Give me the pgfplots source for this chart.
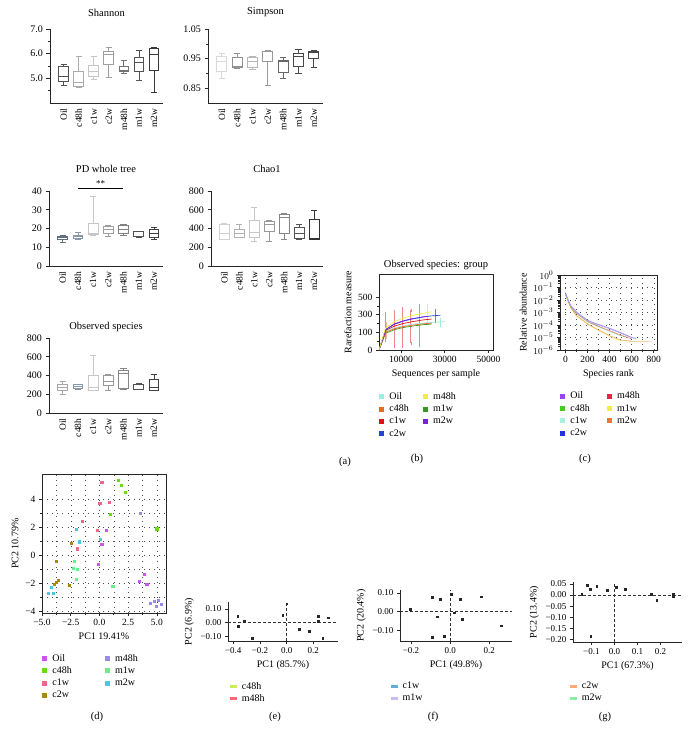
\documentclass[border=0pt]{standalone}
\usepackage{pgfplots}
\pgfplotsset{compat=1.18}
\usepgfplotslibrary{statistics}
\usepackage{fontspec}
\setmainfont{Liberation Serif}
\newcommand{\fz}[1]{\fontsize{#1}{#1}\selectfont}
\definecolor{bgA}{HTML}{607080}
\definecolor{bgB}{HTML}{8898A8}
\definecolor{rOil}{HTML}{99EEDD}
\definecolor{rc48h}{HTML}{EE6622}
\definecolor{rc1w}{HTML}{DD1111}
\definecolor{rc2w}{HTML}{2244DD}
\definecolor{rm48h}{HTML}{EEEE44}
\definecolor{rm1w}{HTML}{339922}
\definecolor{rm2w}{HTML}{7722DD}
\definecolor{kOil}{HTML}{9944EE}
\definecolor{kc48h}{HTML}{44CC22}
\definecolor{kc1w}{HTML}{AAF0E0}
\definecolor{kc2w}{HTML}{2233DD}
\definecolor{km48h}{HTML}{EE2244}
\definecolor{km1w}{HTML}{EEEE44}
\definecolor{km2w}{HTML}{EE7733}
\definecolor{pOil}{HTML}{CC55EE}
\definecolor{pc48h}{HTML}{66DD11}
\definecolor{pc1w}{HTML}{EE6688}
\definecolor{pc2w}{HTML}{AA8811}
\definecolor{pm48h}{HTML}{9988EE}
\definecolor{pm1w}{HTML}{66EE88}
\definecolor{pm2w}{HTML}{44CCDD}
\definecolor{eA}{HTML}{CCEE55}
\definecolor{eB}{HTML}{FF6677}
\definecolor{fA}{HTML}{66AADD}
\definecolor{fB}{HTML}{CCBBEE}
\definecolor{gA}{HTML}{FFAA77}
\definecolor{gB}{HTML}{88EEAA}

\newcommand{\bx}[7]{\addplot[draw=#7, line width=0.75pt, boxplot prepared={draw direction=y, draw position=#1, lower whisker=#2, lower quartile=#3, median=#4, upper quartile=#5, upper whisker=#6, box extend=0.65, whisker extend=0.4}] coordinates {};}
\newcommand{\eb}[2]{\addplot[forget plot, draw=none, mark=none, error bars/.cd, y dir=both, y explicit,
  error bar style={draw=#1, line width=0.6pt}, error mark=-, error mark options={draw=#1, mark size=1.5pt}] coordinates {#2};}

\pgfplotsset{
  boxax/.style={scale only axis, anchor=south west, axis lines*=left,
    axis line style={-, line width=0.7pt, black!85},
    xmin=-0.9, xmax=6.6, xtick={0,1,2,3,4,5,6},
    xticklabels={Oil,c48h,c1w,c2w,m48h,m1w,m2w},
    x tick label style={rotate=90, anchor=east, font=\fz{9.5}, inner sep=2pt},
    major x tick style={draw=none}, tick align=outside,
    y tick label style={font=\fz{10}},
    major tick length=3.5pt, minor tick length=2.2pt,
    tick style={black!85, line width=0.6pt},
    /pgf/number format/assume math mode=true,
    title style={font=\fz{10.5}}, clip=false},
  ptax/.style={scale only axis, anchor=south west, tick align=outside, tick pos=left,
    tick label style={font=\fz{9.5}}, label style={font=\fz{10}},
    /pgf/number format/assume math mode=true,
    axis line style={line width=0.7pt, black!85},
    tick style={black!85, line width=0.6pt}, major tick length=3pt, minor tick length=2pt},
  sqleg/.style={legend columns=2, legend cell align=left},
}

\begin{document}
\begin{tikzpicture}
\useasboundingbox (0,0) rectangle (689pt,-744pt);

% ---------- Shannon
\begin{axis}[boxax, at={(50pt,-103pt)}, width=113pt, height=74pt, ymin=4, ymax=7,
  ytick={5,6,7}, yticklabels={5.0,6.0,7.0}, minor ytick={4.5,5.5,6.5},
  title={Shannon}, title style={yshift=3pt}]
\bx{0}{4.73}{4.86}{5.09}{5.47}{5.58}{black!68}
\bx{1}{4.64}{4.69}{4.82}{5.3}{5.9}{black!33}
\bx{2}{4.97}{5.07}{5.27}{5.54}{5.9}{black!22}
\bx{3}{5.03}{5.58}{5.97}{6.08}{6.24}{black!38}
\bx{4}{5.2}{5.3}{5.34}{5.5}{5.72}{black!55}
\bx{5}{4.93}{5.27}{5.64}{5.85}{6.12}{black!68}
\bx{6}{4.42}{5.34}{5.97}{6.2}{6.24}{black!78}
\end{axis}

% ---------- Simpson
\begin{axis}[boxax, at={(208pt,-103pt)}, width=115pt, height=74pt, ymin=0.8, ymax=1.05,
  ytick={0.85,0.95,1.05}, yticklabels={0.85,0.95,1.05}, minor ytick={0.9,1.0},
  title={Simpson}, title style={yshift=3pt}]
\bx{0}{0.884}{0.906}{0.94}{0.959}{0.966}{black!15}
\bx{1}{0.917}{0.92}{0.925}{0.954}{0.966}{black!43}
\bx{2}{0.912}{0.92}{0.942}{0.954}{0.959}{black!28}
\bx{3}{0.861}{0.942}{0.974}{0.976}{0.979}{black!40}
\bx{4}{0.884}{0.903}{0.942}{0.945}{0.954}{black!60}
\bx{5}{0.9}{0.925}{0.959}{0.968}{0.981}{black!72}
\bx{6}{0.921}{0.951}{0.97}{0.974}{0.977}{black!72}
\end{axis}

% ---------- PD whole tree
\begin{axis}[boxax, at={(49pt,-266pt)}, width=114pt, height=75pt, ymin=0, ymax=40,
  ytick={0,10,20,30,40}, title={PD whole tree}, title style={yshift=9pt}]
\bx{0}{12.4}{14.2}{15.1}{15.6}{16.5}{bgA}
\bx{1}{14.2}{14.8}{15.6}{16.5}{18}{bgB}
\bx{2}{16.5}{16.9}{17.4}{22.8}{37}{black!22}
\bx{3}{16}{17.4}{19.6}{21}{21.9}{black!38}
\bx{4}{16.5}{17.4}{19.7}{21.5}{22.4}{black!50}
\bx{5}{15.3}{15.6}{16}{18.3}{18.3}{black!68}
\bx{6}{14.2}{15.1}{17.4}{19.6}{20.4}{black!75}
\addplot[black, line width=0.7pt] coordinates {(1,41.4) (4,41.4)};
\node[font=\fz{9}, anchor=south, inner sep=1pt] at (axis cs:2.5,41.6) {**};
\end{axis}

% ---------- Chao1
\begin{axis}[boxax, at={(211pt,-266pt)}, width=112pt, height=75pt, ymin=0, ymax=800,
  ytick={0,200,400,600,800}, title={Chao1}, title style={yshift=9pt}]
\bx{0}{284}{284}{348}{448}{455}{black!18}
\bx{1}{306}{306}{348}{391}{448}{black!30}
\bx{2}{267}{306}{359}{491}{622}{black!22}
\bx{3}{260}{366}{448}{473}{484}{black!40}
\bx{4}{284}{348}{519}{551}{562}{black!47}
\bx{5}{284}{295}{348}{412}{448}{black!68}
\bx{6}{288}{288}{295}{498}{590}{black!80}
\end{axis}

% ---------- Observed species
\begin{axis}[boxax, at={(49pt,-413pt)}, width=114pt, height=75pt, ymin=0, ymax=800,
  ytick={0,200,400,600,800}, title={Observed species}, title style={yshift=-3pt}]
\bx{0}{203}{238}{277}{302}{338}{black!35}
\bx{1}{249}{267}{284}{302}{309}{bgB}
\bx{2}{238}{242}{277}{398}{612}{black!22}
\bx{3}{238}{292}{338}{398}{409}{black!40}
\bx{4}{256}{267}{427}{455}{480}{black!47}
\bx{5}{249}{249}{256}{302}{320}{black!68}
\bx{6}{242}{242}{274}{356}{416}{black!75}
\end{axis}

% ---------- (b) rarefaction
\begin{axis}[ptax, at={(379pt,-350pt)}, width=114pt, height=76pt,
  xmin=0, xmax=52000, ymin=0, ymax=430, scaled x ticks=false,
  xtick={10000,30000,50000}, xticklabels={10000,30000,50000},
  ytick={0,100,200,300}, yticklabels={0,100,300,500}, minor y tick num=1,
  title={Observed species: group}, title style={font=\fz{10.5}, yshift=-5pt},
  xlabel={Sequences per sample}, ylabel={Rarefaction measure},
  sqleg, legend style={draw=none, fill=none, at={(0,-0.53)}, anchor=north west,
    font=\fz{10}, inner sep=0pt, row sep=0pt, /tikz/every even column/.append style={column sep=12pt}},
  legend image code/.code={\fill[#1, draw=none] (0pt,-2.5pt) rectangle (5pt,2.5pt); \path (8pt,0pt);}]
\addlegendimage{fill=rOil}\addlegendentry{Oil}
\addlegendimage{fill=rm48h}\addlegendentry{m48h}
\addlegendimage{fill=rc48h}\addlegendentry{c48h}
\addlegendimage{fill=rm1w}\addlegendentry{m1w}
\addlegendimage{fill=rc1w}\addlegendentry{c1w}
\addlegendimage{fill=rm2w}\addlegendentry{m2w}
\addlegendimage{fill=rc2w}\addlegendentry{c2w}
\eb{rc1w!50}{(2900,131) +- (0,76) (6800,118) +- (0,99) (10700,127) +- (0,108) (14500,132) +- (0,94) (18400,141) +- (0,113)}
\eb{rc48h!45}{(3300,110) +- (0,40)}
\eb{rm48h!80}{(22000,202) +- (0,52)}
\eb{rc2w!70}{(25600,193) +- (0,33)}
\eb{rOil}{(27800,157) +- (0,16)}
\addplot[forget plot, rOil, line width=0.7pt] coordinates {(0,0)(3000,105)(7000,125)(11000,137)(15000,145)(20000,152)(25000,157)(30000,160)};
\addplot[forget plot, rm1w, line width=0.7pt] coordinates {(0,0)(3000,95)(7000,115)(11000,127)(15000,135)(20000,143)(24000,147)};
\addplot[forget plot, rc48h, line width=0.7pt] coordinates {(0,0)(3000,100)(7000,120)(11000,132)(15000,140)(20000,148)(24000,152)};
\addplot[forget plot, rc1w, line width=0.7pt] coordinates {(0,0)(3000,110)(7000,135)(11000,150)(15000,160)(20000,170)(24000,175)};
\addplot[forget plot, rc2w, line width=0.7pt] coordinates {(0,0)(3000,115)(7000,145)(11000,163)(15000,175)(20000,187)(24000,193)(28000,197)};
\addplot[forget plot, rm2w, line width=0.7pt] coordinates {(0,0)(3000,115)(7000,148)(11000,165)(15000,177)(20000,187)(22000,190)};
\addplot[forget plot, rm48h, line width=0.7pt] coordinates {(0,0)(3000,125)(7000,160)(11000,180)(15000,195)(20000,208)(24000,216)};
\end{axis}

% ---------- (c) rank abundance
\begin{axis}[ptax, at={(560pt,-350pt)}, width=97pt, height=75pt, ymode=log,
  xmin=-50, xmax=830, ymin=1e-6, ymax=1,
  xtick={0,200,400,600,800},
  ytick={1e-6,1e-5,1e-4,1e-3,1e-2,1e-1,1},
  yticklabels={$10^{-6}$,$10^{-5}$,$10^{-4}$,$10^{-3}$,$10^{-2}$,$10^{-1}$,$10^{0}$},
  minor x tick num=1, minor ytick={},
  xmajorgrids, xminorgrids, ymajorgrids,
  major grid style={black!70, dash pattern=on 0.6pt off 4.5pt},
  minor grid style={black!70, dash pattern=on 0.6pt off 4.5pt},
  xlabel={Species rank}, ylabel={Relative abundance},
  sqleg, legend style={draw=none, fill=none, at={(0,-0.53)}, anchor=north west,
    font=\fz{10}, inner sep=0pt, row sep=0pt, /tikz/every even column/.append style={column sep=15pt}},
  legend image code/.code={\fill[#1, draw=none] (0pt,-2.5pt) rectangle (5pt,2.5pt); \path (8pt,0pt);}]
\addlegendimage{fill=kOil}\addlegendentry{Oil}
\addlegendimage{fill=km48h}\addlegendentry{m48h}
\addlegendimage{fill=kc48h}\addlegendentry{c48h}
\addlegendimage{fill=km1w}\addlegendentry{m1w}
\addlegendimage{fill=kc1w}\addlegendentry{c1w}
\addlegendimage{fill=km2w}\addlegendentry{m2w}
\addlegendimage{fill=kc2w}\addlegendentry{c2w}
\addplot[forget plot, km1w, line width=0.45pt] coordinates {(0,0.025)(50,0.002)(100,0.000501)(200,0.000112)(300,3.55e-5)(400,1.26e-5)(450,7.9e-6)(500,5.6e-6)(600,5.0e-6)(750,5.0e-6)};
\addplot[forget plot, km2w!80, line width=0.45pt] coordinates {(0,0.025)(50,0.00224)(100,0.000562)(200,0.000126)(300,3.98e-5)(400,1.41e-5)(500,6.3e-6)(600,5.0e-6)(780,5.0e-6)};
\addplot[forget plot, kc48h!70, line width=0.45pt] coordinates {(0,0.025)(50,0.00251)(100,0.000794)(200,0.000178)(300,7.08e-5)(400,3.16e-5)(500,1.41e-5)(560,1e-5)};
\addplot[forget plot, km48h!70, line width=0.45pt] coordinates {(0,0.0316)(50,0.00282)(100,0.000891)(200,0.0002)(300,7.94e-5)(400,3.55e-5)(500,1.58e-5)(600,7.9e-6)};
\addplot[forget plot, kc1w, line width=0.45pt] coordinates {(0,0.0316)(50,0.00316)(100,0.001)(200,0.000224)(300,0.0001)(400,5.01e-5)(500,2.24e-5)(600,1.12e-5)(650,8.9e-6)};
\addplot[forget plot, kc2w!60, line width=0.45pt] coordinates {(0,0.04)(25,0.01)(50,0.00355)(100,0.00112)(150,0.000501)(200,0.000251)(250,0.000158)(300,0.000112)(400,5.62e-5)(500,2.51e-5)(600,1e-5)(640,7.9e-6)};
\addplot[forget plot, kOil!60, line width=0.45pt] coordinates {(0,0.0316)(25,0.0079)(50,0.00316)(100,0.001)(150,0.000447)(200,0.000224)(250,0.000141)(300,0.0001)(400,5.01e-5)(500,2.24e-5)(580,1.12e-5)(620,8.9e-6)};
\end{axis}

% ---------- (d) PCA
\begin{axis}[ptax, at={(42pt,-613pt)}, width=124pt, height=139pt,
  xmin=-5, xmax=5.8, ymin=-4.15, ymax=5.8,
  xtick={-5,-2.5,0,2.5,5}, xticklabels={−5.0,−2.5,0.0,2.5,5.0},
  ytick={-4,-2,0,2,4}, yticklabels={−4,−2,0,2,4},
  minor x tick num=1, minor y tick num=1, grid=both,
  major grid style={black!70, dash pattern=on 0.6pt off 4.5pt},
  minor grid style={black!70, dash pattern=on 0.6pt off 4.5pt},
  xlabel={PC1 19.41\%}, ylabel={PC2 10.79\%},
  sqleg, legend style={draw=none, fill=none, at={(0,-0.28)}, anchor=north west,
    font=\fz{10}, inner sep=0pt, row sep=0pt, /tikz/every even column/.append style={column sep=31pt}},
  legend image code/.code={\fill[#1, draw=none] (0pt,-2.5pt) rectangle (5pt,2.5pt); \path (8pt,0pt);}]
\addlegendimage{fill=pOil}\addlegendentry{Oil}
\addlegendimage{fill=pm48h}\addlegendentry{m48h}
\addlegendimage{fill=pc48h}\addlegendentry{c48h}
\addlegendimage{fill=pm1w}\addlegendentry{m1w}
\addlegendimage{fill=pc1w}\addlegendentry{c1w}
\addlegendimage{fill=pm2w}\addlegendentry{m2w}
\addlegendimage{fill=pc2w}\addlegendentry{c2w}
\addplot[forget plot, only marks, mark=square*, mark size=1.1pt, pc48h] coordinates {(1.65,5.36)(1.89,5.0)(2.23,4.52)(0.93,2.9)(4.99,1.88)};
\addplot[forget plot, only marks, mark=square*, mark size=1.1pt, pc1w] coordinates {(0.2,5.21)(0.03,3.69)(0.82,3.79)(-1.53,2.43)(-0.2,1.79)(-1.94,0.45)};
\addplot[forget plot, only marks, mark=square*, mark size=1.1pt, pOil] coordinates {(0.58,1.79)(0.2,0.79)(-0.14,-0.67)(3.48,-1.9)(3.92,-1.36)(4.12,-2.07)};
\addplot[forget plot, only marks, mark=square*, mark size=1.1pt, pm48h] coordinates {(3.57,2.98)(4.43,-3.45)(4.78,-3.33)(5.13,-3.21)(4.93,-3.69)(5.37,-3.5)};
\addplot[forget plot, only marks, mark=square*, mark size=1.1pt, pc2w] coordinates {(-2.46,0.83)(-3.74,-0.43)(-3.56,-1.79)(-3.91,-2.1)(-3.75,-1.95)(-2.66,-2.14)};
\addplot[forget plot, only marks, mark=square*, mark size=1.1pt, pm2w] coordinates {(-2.03,1.83)(-1.74,0.95)(0.06,1.14)(-4.2,-2.31)(-4.49,-2.74)(-4.05,-2.74)};
\addplot[forget plot, only marks, mark=square*, mark size=1.1pt, pm1w] coordinates {(-2.23,-0.43)(-2.31,-0.95)(-1.94,-1.02)(-2.03,-1.74)(1.16,-2.21)};
\end{axis}

% ---------- (e)
\begin{axis}[ptax, axis lines*=left, axis line style={-}, at={(228pt,-641pt)}, width=110pt, height=39pt,
  xmin=-0.44, xmax=0.385, ymin=-0.135, ymax=0.15,
  xtick={-0.4,-0.2,0,0.2}, xticklabels={−0.4,−0.2,0.0,0.2},
  ytick={-0.1,0,0.1}, yticklabels={−0.10,0.00,0.10}, tick label style={font=\fz{9}},
  xlabel={PC1 (85.7\%)}, ylabel={PC2 (6.9\%)},
  legend style={draw=none, fill=none, at={(0,-1.0)}, anchor=north west, font=\fz{10}, inner sep=0pt, row sep=0pt},
  legend cell align=left,
  legend image code/.code={\draw[#1, line width=3pt] (0pt,0pt) -- (7pt,0pt); \path (10pt,0pt);}]
\addlegendimage{eA}\addlegendentry{c48h}
\addlegendimage{eB}\addlegendentry{m48h}
\addplot[forget plot, black!80, line width=0.6pt, dash pattern=on 3pt off 2pt] coordinates {(-0.44,0)(0.385,0)};
\addplot[forget plot, black!80, line width=0.6pt, dash pattern=on 3pt off 2pt] coordinates {(0,-0.135)(0,0.15)};
\addplot[forget plot, only marks, mark=square*, mark size=0.9pt, black!85] coordinates {(-0.368,0.046)(-0.364,-0.027)(-0.319,0.01)(-0.256,-0.112)(-0.03,0.053)(0.0,0.138)(0.092,-0.051)(0.168,-0.061)(0.238,0.046)(0.238,0.012)(0.27,-0.112)(0.313,0.036)};
\end{axis}

% ---------- (f)
\begin{axis}[ptax, axis lines*=left, axis line style={-}, at={(400pt,-641pt)}, width=112pt, height=51pt,
  xmin=-0.256, xmax=0.316, ymin=-0.157, ymax=0.116,
  xtick={-0.2,0,0.2}, xticklabels={−0.2,0.0,0.2},
  ytick={-0.1,0,0.1}, yticklabels={−0.10,0.00,0.10}, tick label style={font=\fz{9}},
  xlabel={PC1 (49.8\%)}, ylabel={PC2 (20.4\%)},
  legend style={draw=none, fill=none, at={(-0.1,-0.76)}, anchor=north west, font=\fz{10}, inner sep=0pt, row sep=0pt},
  legend cell align=left,
  legend image code/.code={\draw[#1, line width=3pt] (0pt,0pt) -- (7pt,0pt); \path (10pt,0pt);}]
\addlegendimage{fA}\addlegendentry{c1w}
\addlegendimage{fB}\addlegendentry{m1w}
\addplot[forget plot, black!80, line width=0.6pt, dash pattern=on 3pt off 2pt] coordinates {(-0.256,0)(0.316,0)};
\addplot[forget plot, black!80, line width=0.6pt, dash pattern=on 3pt off 2pt] coordinates {(0,-0.157)(0,0.116)};
\addplot[forget plot, only marks, mark=square*, mark size=0.9pt, black!85] coordinates {(-0.204,0.014)(-0.093,0.077)(-0.068,-0.027)(-0.051,0.068)(-0.093,-0.137)(-0.031,-0.13)(0.005,0.095)(0.022,-0.005)(0.051,0.068)(0.06,-0.039)(0.158,0.08)(0.259,-0.075)};
\end{axis}

% ---------- (g)
\begin{axis}[ptax, axis lines*=left, axis line style={-}, at={(573pt,-642pt)}, width=109pt, height=60pt,
  xmin=-0.18, xmax=0.294, ymin=-0.21, ymax=0.058,
  xtick={-0.1,0,0.1,0.2}, xticklabels={−0.1,0.0,0.1,0.2},
  ytick={-0.2,-0.15,-0.1,-0.05,0,0.05}, yticklabels={−0.20,−0.15,−0.10,−0.05,0.00,0.05}, tick label style={font=\fz{9}},
  xlabel={PC1 (67.3\%)}, ylabel={PC2 (13.4\%)},
  legend style={draw=none, fill=none, at={(-0.046,-0.63)}, anchor=north west, font=\fz{10}, inner sep=0pt, row sep=0pt},
  legend cell align=left,
  legend image code/.code={\draw[#1, line width=3pt] (0pt,0pt) -- (7pt,0pt); \path (10pt,0pt);}]
\addlegendimage{gA}\addlegendentry{c2w}
\addlegendimage{gB}\addlegendentry{m2w}
\addplot[forget plot, black!80, line width=0.6pt, dash pattern=on 3pt off 2pt] coordinates {(-0.18,0)(0.294,0)};
\addplot[forget plot, black!80, line width=0.6pt, dash pattern=on 3pt off 2pt] coordinates {(0,-0.21)(0,0.058)};
\addplot[forget plot, only marks, mark=square*, mark size=0.9pt, black!85] coordinates {(-0.142,0.0045)(-0.12,0.045)(-0.106,0.026)(-0.077,0.041)(-0.103,-0.185)(-0.03,0.023)(0.007,0.035)(0.047,0.027)(0.16,0.0045)(0.184,-0.023)(0.254,-0.008)(0.254,0.003)};
\end{axis}

% ---------- panel labels
\node[font=\fz{10.5}] at (345pt,-462pt) {(a)};
\node[font=\fz{10.5}] at (417pt,-459pt) {(b)};
\node[font=\fz{10.5}] at (585pt,-459pt) {(c)};
\node[font=\fz{10.5}] at (97pt,-717pt) {(d)};
\node[font=\fz{10.5}] at (275pt,-717pt) {(e)};
\node[font=\fz{10.5}] at (433pt,-717pt) {(f)};
\node[font=\fz{10.5}] at (605pt,-717pt) {(g)};
\end{tikzpicture}
\end{document}
